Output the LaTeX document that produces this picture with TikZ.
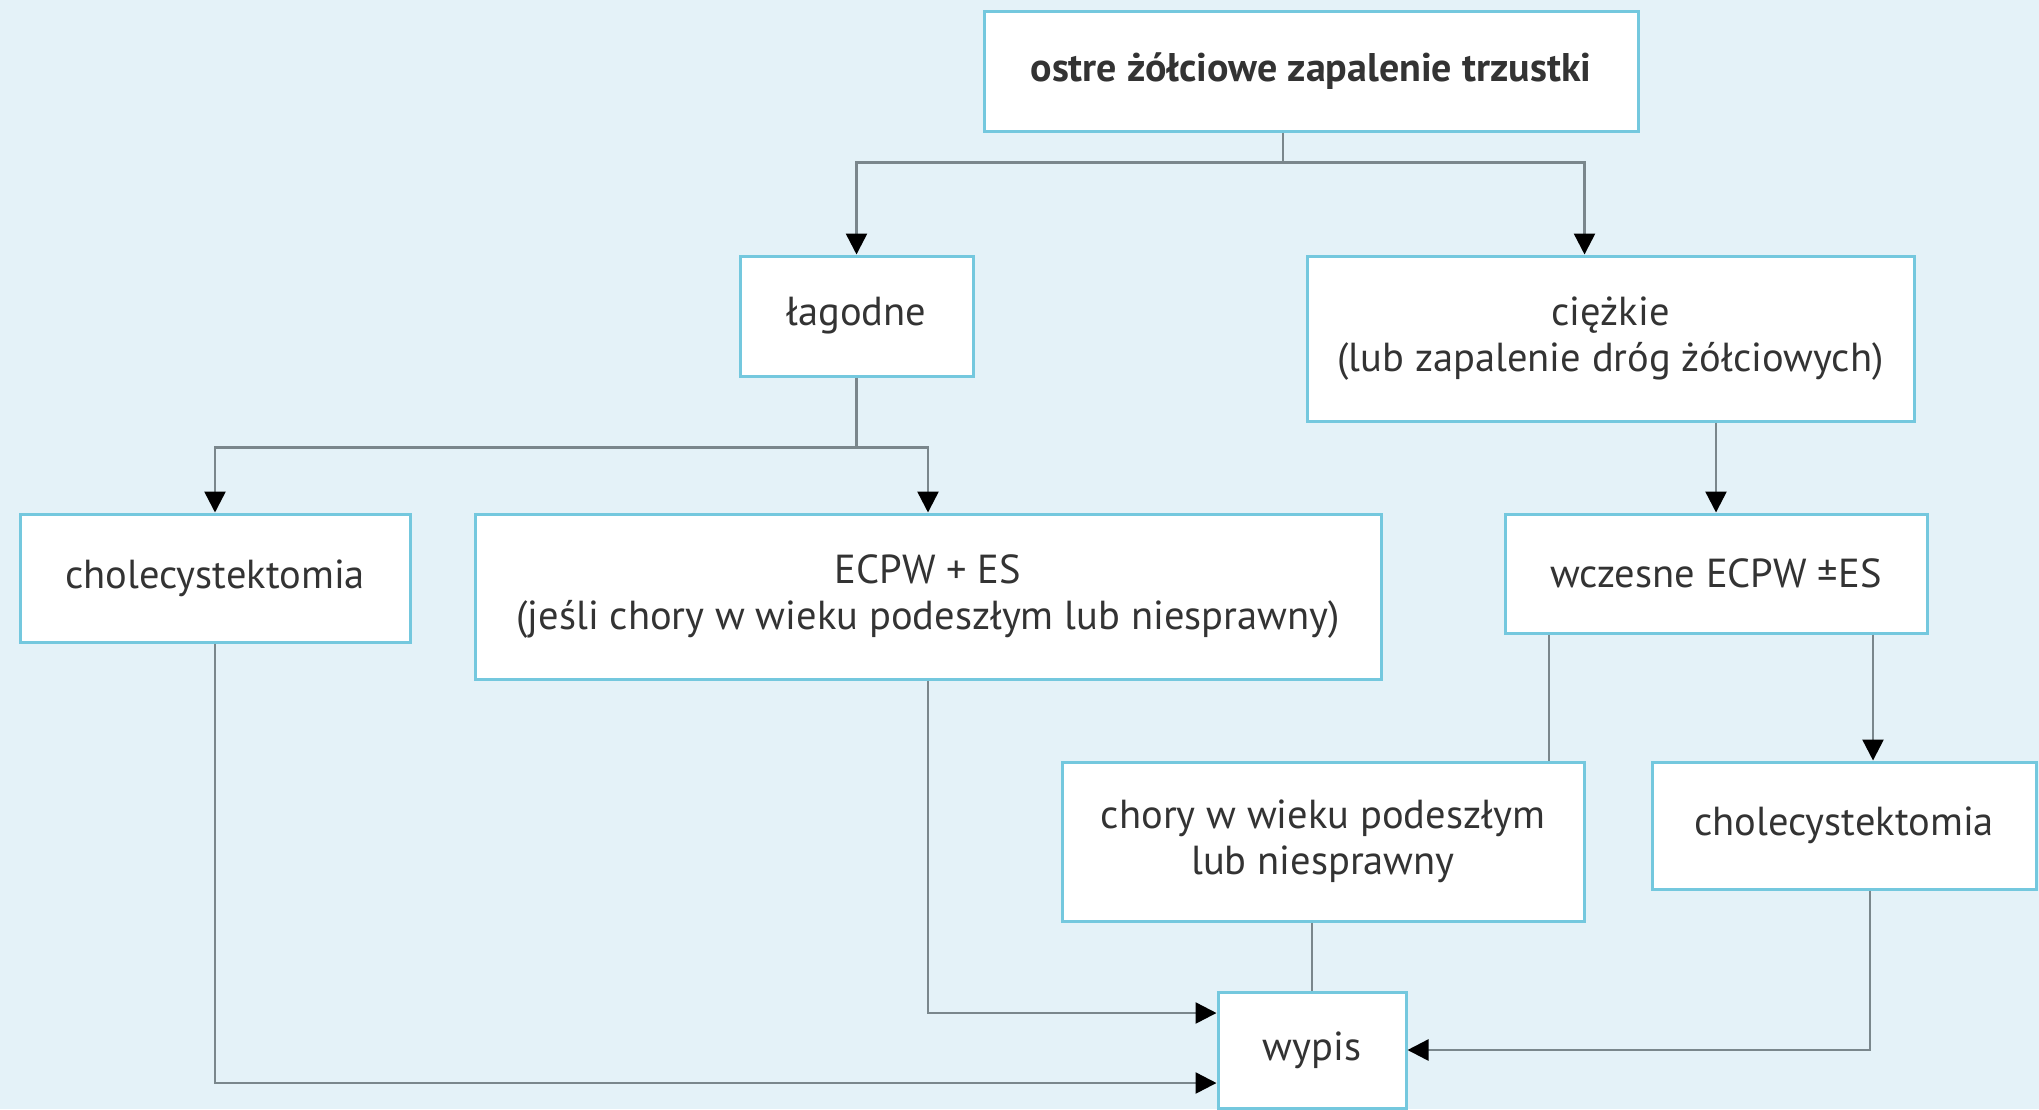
\documentclass[tikz,border=0pt]{standalone}
\usepackage{fontspec}
\setmainfont{PT Sans}
\usetikzlibrary{arrows.meta,calc}
\definecolor{bgc}{HTML}{E4F2F8}
\definecolor{boxc}{HTML}{74C8DE}
\definecolor{linec}{HTML}{7A878C}
\definecolor{txtc}{HTML}{333333}
\tikzset{
  box/.style={draw=boxc, line width=3pt, fill=white, rectangle, align=center, inner sep=0pt, text=txtc,
     font=\fontsize{40.5}{46}\selectfont},
  conn/.style={draw=linec, line width=2.5pt},
  arr/.style={conn, -{Triangle[width=21pt,length=21pt,fill=black,color=black]}},
}
\begin{document}
\begin{tikzpicture}[x=1pt,y=-1pt]
\useasboundingbox[fill=bgc] (0,0) rectangle (2039,1109);
\node[box, minimum width=654pt, minimum height=120pt, font=\fontsize{40}{46}\selectfont\bfseries] (top) at (1311,71) {ostre żółciowe zapalenie trzustki};
\node[box, minimum width=233pt, minimum height=120pt] (lag) at (856.5,316) {łagodne};
\node[box, minimum width=607pt, minimum height=165pt] (ciez) at (1610.5,338.5) {ciężkie\\(lub zapalenie dróg żółciowych)};
\node[box, minimum width=390pt, minimum height=128pt] (chL) at (215,578) {cholecystektomia};
\node[box, minimum width=906pt, minimum height=165pt] (ecpw) at (928,596.5) {ECPW + ES\\(jeśli chory w wieku podeszłym lub niesprawny)};
\node[box, minimum width=422pt, minimum height=119pt] (wcz) at (1716,573.5) {wczesne ECPW ±ES};
\node[box, minimum width=522pt, minimum height=159pt] (chory) at (1323,841.5) {chory w wieku podeszłym\\lub niesprawny};
\node[box, minimum width=384pt, minimum height=127pt] (chR) at (1844,825.5) {cholecystektomia};
\node[box, minimum width=188pt, minimum height=116pt] (wypis) at (1312,1050) {wypis};

% top -> lag, ciez
\draw[conn] ([xshift=-28pt]top.south) -- ++(0,30) coordinate (j1);
\draw[arr] (j1) -| (lag.north);
\draw[arr] (j1) -| ([xshift=-26pt]ciez.north);
% lag -> chL, ecpw
\draw[conn] (lag.south) -- ++(0,70) coordinate (j2);
\draw[arr] (j2) -| (chL.north);
\draw[arr] (j2) -| (ecpw.north);
% ciez -> wcz
\draw[arr] (ciez.south -| wcz.north) -- (wcz.north);
% wcz -> chory, chR
\draw[conn] ([xshift=-167pt]wcz.south) -- ([xshift=-167pt]wcz.south |- chory.north);
\draw[arr] ([xshift=157pt]wcz.south) -- ([xshift=157pt]wcz.south |- chR.north);
% to wypis
\draw[conn] (wypis.north |- chory.south) -- (wypis.north);
\draw[arr] (ecpw.south) |- ([yshift=37pt]wypis.west);
\draw[arr] (chL.south) |- ([yshift=-33pt]wypis.west);
\draw[arr] ([xshift=26pt]chR.south) |- (wypis.east);
\end{tikzpicture}
\end{document}
